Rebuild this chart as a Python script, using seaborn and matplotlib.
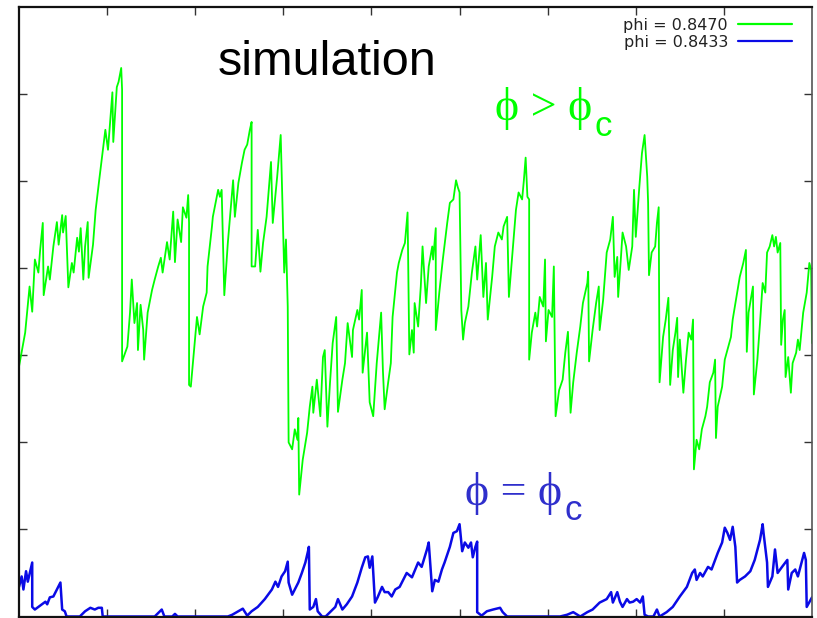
import matplotlib
matplotlib.use("Agg")
import matplotlib.pyplot as plt
import seaborn as sns
import pandas as pd

# Series labels
labels = ["phi = 0.8470", "phi = 0.8433"]

# phi = 0.8470 (above jamming)
green_t = [0, 7, 12, 15, 18, 22, 24, 27, 28, 33,
           35, 39, 43, 45, 49, 50, 53, 56, 60, 62,
           66, 68, 70, 73, 75, 78, 79, 84, 87, 91,
           98, 101, 106, 107, 111, 113, 116, 117, 117, 123,
           126, 128, 131, 134, 135, 138, 141, 142, 146, 151,
           154, 158, 161, 163, 168, 171, 175, 177, 180, 184,
           186, 190, 192, 193, 193, 195, 200, 202, 205, 209,
           213, 214, 219, 220, 226, 228, 230, 233, 237, 243,
           245, 249, 253, 256, 259, 262, 264, 264, 268, 271,
           274, 277, 281, 286, 288, 293, 297, 300, 301, 303,
           304, 305, 306, 310, 313, 316, 317, 318, 322, 327,
           330, 333, 334, 338, 342, 345, 347, 350, 353, 356,
           360, 362, 367, 370, 373, 378, 379, 384, 386, 389,
           390, 395, 398, 402, 406, 411, 413, 415, 419, 422,
           424, 429, 431, 435, 438, 441, 443, 446, 448, 449,
           453, 456, 458, 462, 465, 469, 470, 473, 473, 477,
           481, 486, 489, 493, 496, 498, 500, 502, 504, 506,
           510, 514, 518, 520, 524, 527, 530, 532, 537, 540,
           544, 548, 550, 554, 556, 561, 564, 567, 571, 573,
           575, 577, 579, 579, 582, 586, 588, 591, 595, 597,
           598, 601, 605, 607, 609, 613, 617, 620, 623, 626,
           629, 633, 637, 640, 645, 646, 647, 651, 655, 658,
           659, 663, 667, 671, 674, 676, 679, 680, 683, 685,
           689, 692, 696, 698, 700, 704, 707, 708, 710, 713,
           714, 715, 718, 722, 724, 726, 727, 731, 734, 737,
           739, 742, 745, 747, 748, 750, 754, 757, 760, 763,
           765, 766, 769, 772, 775, 779, 781, 784, 788, 790,
           791, 793, 798, 801, 805, 808, 810, 815, 818, 822,
           825, 826, 828, 833, 834, 838, 841, 844, 847, 849,
           852, 855, 857, 859, 861, 864, 865, 867, 869, 870,
           873, 876, 878, 882, 884, 886, 890, 894, 897, 899,
           900]
green_y = [287, 326, 379, 350, 410, 395, 421, 452, 369, 402,
           387, 425, 453, 427, 461, 441, 460, 378, 406, 395,
           435, 419, 446, 387, 425, 453, 389, 427, 467, 501,
           559, 536, 602, 545, 608, 614, 630, 605, 293, 310,
           349, 387, 337, 360, 306, 358, 329, 295, 349, 375,
           387, 402, 412, 395, 430, 410, 465, 407, 456, 430,
           470, 458, 484, 452, 266, 264, 321, 344, 324, 356,
           372, 402, 448, 459, 490, 482, 490, 369, 429, 501,
           459, 498, 521, 536, 542, 559, 568, 402, 402, 444,
           396, 429, 459, 522, 452, 505, 553, 433, 395, 433,
           395, 356, 200, 192, 215, 203, 228, 140, 180, 211,
           241, 264, 234, 272, 230, 298, 306, 218, 269, 314,
           344, 235, 272, 291, 337, 298, 329, 352, 341, 375,
           280, 326, 246, 230, 291, 349, 283, 238, 269, 291,
           344, 395, 406, 421, 429, 464, 301, 329, 303, 360,
           333, 379, 425, 360, 402, 425, 410, 446, 329, 372,
           410, 452, 475, 479, 501, 493, 487, 352, 318, 337,
           356, 395, 425, 387, 438, 367, 406, 341, 390, 425,
           441, 433, 448, 459, 367, 429, 467, 487, 479, 501,
           527, 482, 479, 295, 326, 349, 333, 367, 356, 410,
           316, 352, 344, 402, 230, 260, 272, 303, 327, 234,
           269, 303, 333, 360, 383, 396, 293, 329, 360, 379,
           329, 364, 418, 433, 459, 390, 413, 367, 410, 441,
           425, 398, 425, 490, 436, 493, 532, 539, 553, 505,
           475, 392, 418, 425, 452, 470, 269, 321, 341, 366,
           266, 306, 326, 343, 275, 318, 257, 295, 326, 318,
           341, 169, 203, 192, 215, 230, 241, 269, 280, 295,
           205, 241, 264, 295, 310, 321, 341, 372, 390, 406,
           421, 304, 349, 379, 255, 295, 337, 383, 372, 418,
           425, 438, 425, 436, 418, 429, 312, 341, 352, 275,
           298, 257, 291, 303, 318, 306, 349, 372, 406, 398,
           314]

# phi = 0.8433 (at jamming)
blue_t = [0, 3, 5, 8, 10, 15, 15, 18, 22, 26,
          30, 32, 35, 39, 43, 47, 49, 52, 54, 69,
          75, 81, 86, 90, 94, 95, 154, 162, 165, 174,
          177, 180, 237, 242, 254, 259, 264, 271, 279, 287,
          291, 294, 298, 302, 305, 306, 310, 313, 317, 321,
          325, 328, 329, 330, 334, 337, 339, 344, 348, 353,
          359, 362, 367, 372, 378, 384, 389, 393, 396, 398,
          401, 404, 407, 412, 415, 419, 423, 427, 432, 440,
          446, 453, 457, 463, 465, 469, 472, 476, 480, 483,
          489, 493, 497, 500, 503, 506, 510, 513, 515, 518,
          520, 520, 525, 531, 538, 546, 549, 554, 614, 622,
          629, 637, 645, 651, 659, 667, 672, 674, 679, 682,
          685, 690, 693, 697, 701, 705, 708, 710, 714, 720,
          724, 727, 735, 742, 750, 758, 764, 767, 769, 773,
          776, 782, 786, 790, 793, 798, 801, 804, 807, 810,
          813, 815, 818, 824, 830, 835, 841, 844, 845, 849,
          850, 855, 858, 861, 866, 872, 873, 877, 881, 884,
          889, 891, 893, 894, 899, 900]
blue_y = [34, 46, 31, 52, 40, 62, 11, 8, 11, 14,
          17, 14, 22, 23, 31, 39, 8, 6, 0, 0,
          6, 10, 8, 10, 10, 0, 0, 8, 0, 0,
          3, 0, 0, 2, 9, 1, 6, 11, 20, 31,
          40, 34, 46, 52, 63, 39, 25, 31, 39, 50,
          62, 75, 80, 8, 11, 20, 6, 0, 0, 5,
          11, 20, 8, 14, 23, 39, 56, 68, 69, 56,
          69, 16, 22, 34, 28, 28, 23, 31, 34, 50,
          45, 62, 57, 77, 85, 29, 42, 40, 54, 62,
          80, 96, 98, 106, 75, 85, 79, 85, 68, 80,
          86, 5, 1, 6, 8, 10, 5, 0, 0, 2,
          5, 0, 5, 8, 16, 20, 28, 16, 28, 17,
          11, 20, 16, 17, 20, 16, 23, 2, 0, 0,
          8, 0, 5, 11, 23, 34, 50, 54, 42, 50,
          46, 57, 54, 65, 73, 85, 102, 96, 88, 103,
          80, 39, 42, 46, 52, 65, 88, 106, 96, 62,
          34, 46, 77, 50, 57, 65, 31, 50, 54, 46,
          65, 73, 65, 11, 20, 22]

x_ticks = [100, 200, 300, 400, 500, 600, 700, 800]
y_ticks = [100, 200, 300, 400, 500, 600]

sns.set_style("white")
plt.rcParams["font.family"] = ["Liberation Sans", "DejaVu Sans"]

W, H = 817, 618
fig = plt.figure(figsize=(W / 100, H / 100), dpi=100)
ax = fig.add_axes([19 / W, 1.5 / H, (812 - 19) / W, (611 - 1.5) / H])

green_df = pd.DataFrame({"t": green_t, "v": green_y})
blue_df = pd.DataFrame({"t": blue_t, "v": blue_y})

sns.lineplot(data=green_df, x="t", y="v", ax=ax, color="#00ff00", lw=1.3,
             sort=False, estimator=None, label=labels[0])
sns.lineplot(data=blue_df, x="t", y="v", ax=ax, color="#0a0ae6", lw=1.8,
             sort=False, estimator=None, label=labels[1])

ax.set_xlim(0, 900)
ax.set_ylim(0, 700)
ax.set_xticks(x_ticks)
ax.set_yticks(y_ticks)
ax.set_xticklabels([])
ax.set_yticklabels([])
ax.set_xlabel("")
ax.set_ylabel("")
ax.tick_params(direction="in", length=6, width=1.0, color="#333333",
               top=True, right=True, bottom=True, left=True)
for name, sp in ax.spines.items():
    sp.set_visible(True)
    sp.set_color("#111111")
    sp.set_linewidth(1.6)
ax.spines["right"].set_color("#555555")
ax.spines["right"].set_linewidth(1.2)

leg = ax.legend(loc="upper right", bbox_to_anchor=(792 / W, 1 - 18 / H),
                bbox_transform=fig.transFigure, frameon=False,
                markerfirst=False, handlelength=3.4, handletextpad=0.6,
                borderpad=0, borderaxespad=0, labelspacing=0.1,
                prop={"family": "DejaVu Sans", "size": 11.5})
for text in leg.get_texts():
    text.set_color("#222222")
for line in leg.get_lines():
    line.set_linewidth(1.6)

fig.text(218 / W, 1 - 75 / H, "simulation", fontsize=35, color="black",
         ha="left", va="baseline", family=["Liberation Sans", "DejaVu Sans"])

serif = ["Liberation Serif", "DejaVu Serif"]
fig.text(495 / W, 1 - 120 / H, "\u03d5 > \u03d5", fontsize=33, color="#00ff00",
         ha="left", va="baseline", family=serif)
fig.text(595 / W, 1 - 136 / H, "c", fontsize=25, color="#00ff00",
         ha="left", va="baseline", family=["Liberation Sans", "DejaVu Sans"])

fig.text(465 / W, 1 - 505 / H, "\u03d5 = \u03d5", fontsize=33, color="#2f2fcc",
         ha="left", va="baseline", family=serif)
fig.text(565 / W, 1 - 520 / H, "c", fontsize=25, color="#2f2fcc",
         ha="left", va="baseline", family=["Liberation Sans", "DejaVu Sans"])

fig.savefig("out.png", dpi=100)
